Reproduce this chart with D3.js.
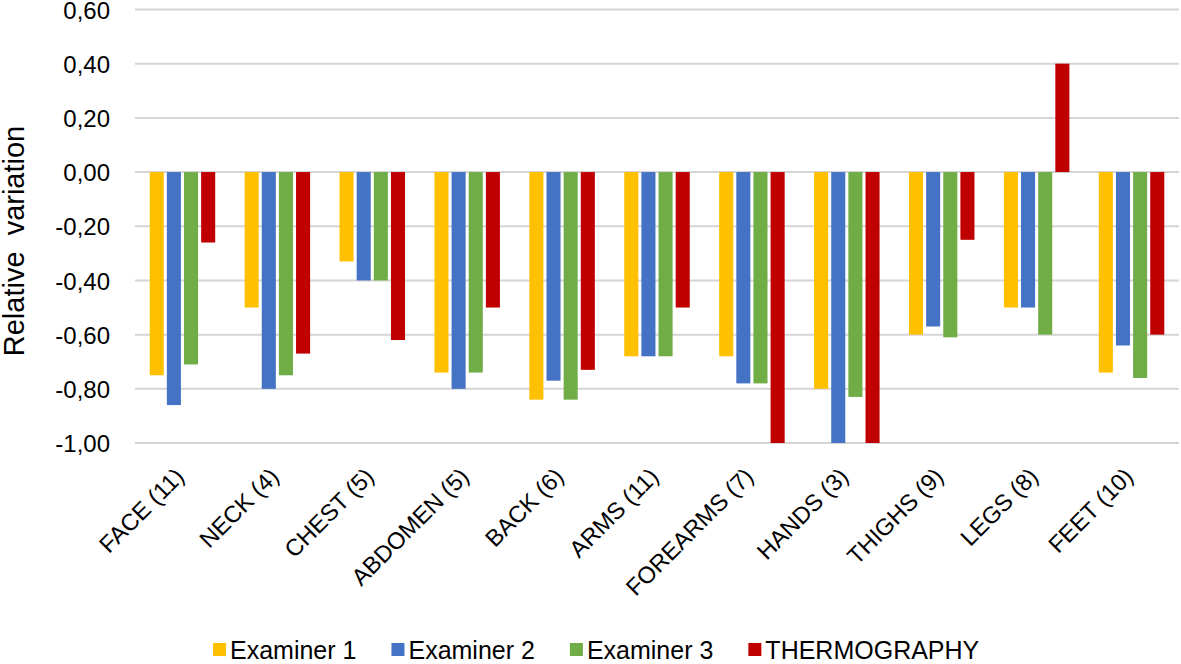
<!DOCTYPE html>
<html><head><meta charset="utf-8">
<script src="https://cdn.jsdelivr.net/npm/d3@7"></script>
<style>body{margin:0;background:#fff;overflow:hidden} text{font-family:"Liberation Sans",Arial,sans-serif;fill:#000}</style>
</head><body><svg id="c" width="1181" height="664"></svg>
<script>
const categories = ["FACE (11)","NECK (4)","CHEST (5)","ABDOMEN (5)","BACK (6)","ARMS (11)","FOREARMS (7)","HANDS (3)","THIGHS (9)","LEGS (8)","FEET (10)"];
const seriesNames = ["Examiner 1","Examiner 2","Examiner 3","THERMOGRAPHY"];
const examiner1 = [-0.75,-0.50,-0.33,-0.74,-0.84,-0.68,-0.68,-0.80,-0.60,-0.50,-0.74];
const examiner2 = [-0.86,-0.80,-0.40,-0.80,-0.77,-0.68,-0.78,-1.00,-0.57,-0.50,-0.64];
const examiner3 = [-0.71,-0.75,-0.40,-0.74,-0.84,-0.68,-0.78,-0.83,-0.61,-0.60,-0.76];
const thermography = [-0.26,-0.67,-0.62,-0.50,-0.73,-0.50,-1.00,-1.00,-0.25,0.40,-0.60];
const yTicks = [-1,-0.8,-0.6,-0.4,-0.2,0,0.2,0.4,0.6];
const colors = ["#FFC000","#4472C4","#70AD47","#C00000"];
const yTitle = "Relative\u00a0\u00a0variation";

const seriesValues = [examiner1, examiner2, examiner3, thermography];
const svg = d3.select("#c");
const plotLeft = 135, plotRight = 1179, plotTop = 9.5, plotBottom = 443;

const x0 = d3.scaleBand().domain(categories).range([plotLeft, plotRight]).paddingInner(0.31).paddingOuter(0.155);
const x1 = d3.scaleBand().domain(seriesNames).range([0, x0.bandwidth()]).paddingInner(0.18);
const y = d3.scaleLinear().domain([-1, 0.6]).range([plotBottom, plotTop]);

const loc = d3.formatLocale({decimal: ",", thousands: ".", grouping: [3], currency: ["", ""], minus: "-"});
const fmt = loc.format(".2f");

// gridlines
svg.append("g").selectAll("line").data(yTicks).join("line")
  .attr("x1", plotLeft).attr("x2", plotRight)
  .attr("y1", d => y(d)).attr("y2", d => y(d))
  .attr("stroke", "#d5d5d5").attr("stroke-width", 2);

// y tick labels
svg.append("g").selectAll("text").data(yTicks).join("text")
  .attr("x", 110).attr("y", d => y(d)).attr("dy", "0.38em")
  .attr("text-anchor", "end").style("font-size", "24px")
  .text(d => fmt(d));

// bars
const groups = svg.append("g").selectAll("g").data(categories).join("g")
  .attr("transform", d => `translate(${x0(d)},0)`);
groups.selectAll("rect").data((c, i) => seriesNames.map((s, j) => ({s, j, v: seriesValues[j][i]})))
  .join("rect")
  .attr("x", d => x1(d.s)).attr("width", x1.bandwidth())
  .attr("y", d => y(Math.max(0, d.v)))
  .attr("height", d => Math.abs(y(d.v) - y(0)))
  .attr("fill", d => colors[d.j]);

// category labels
svg.append("g").selectAll("text").data(categories).join("text")
  .attr("transform", d => `translate(${x0(d) + x0.bandwidth()/2 + 3},478) rotate(-45)`)
  .attr("text-anchor", "end").style("font-size", "23.5px")
  .text(d => d);

// y title
svg.append("text")
  .attr("transform", "translate(24,241) rotate(-90)")
  .attr("text-anchor", "middle").style("font-size", "29px")
  .text(yTitle);

// legend
const leg = svg.append("g");
let lx = 213;
seriesNames.forEach((s, j) => {
  leg.append("rect").attr("x", lx).attr("y", 643).attr("width", 13).attr("height", 13).attr("fill", colors[j]);
  const t = leg.append("text").attr("x", lx + 17).attr("y", 659).style("font-size", "25px").text(s);
  lx += 17 + t.node().getComputedTextLength() + 35;
});
</script></body></html>
